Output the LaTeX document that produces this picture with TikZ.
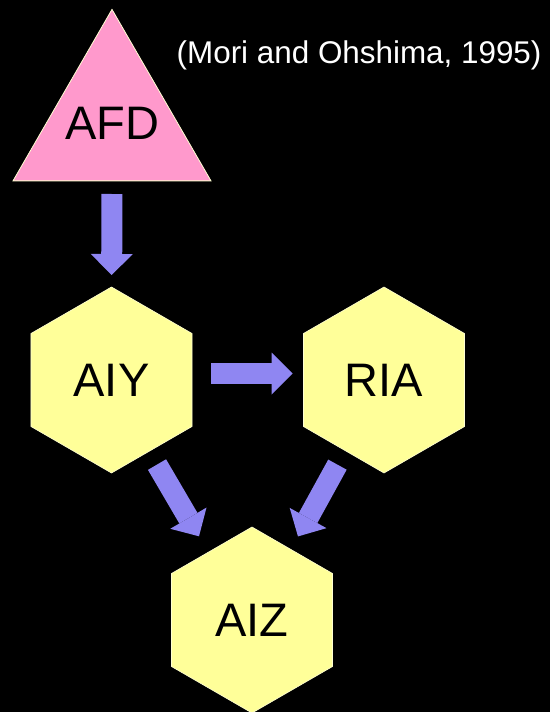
\documentclass[tikz,border=0pt]{standalone}
\usepackage{fontspec}
\setmainfont{Liberation Sans}
\usepackage{tikz}
\usetikzlibrary{shapes.geometric, arrows.meta}

\definecolor{cellyellow}{RGB}{255,255,153}
\definecolor{afdpink}{RGB}{255,153,204}
\definecolor{flowblue}{RGB}{143,134,242}
\definecolor{edgecream}{RGB}{255,255,210}

\begin{document}
\begin{tikzpicture}[x=1pt,y=-1pt,
  neuron/.style={regular polygon, regular polygon sides=6, shape border rotate=30,
    minimum size=186pt, inner sep=0pt, outer sep=0pt,
    fill=cellyellow, draw=edgecream, line width=0.6pt, font=\fontsize{47}{56}\selectfont},
  sensory/.style={regular polygon, regular polygon sides=3,
    minimum size=228.6pt, inner sep=0pt, outer sep=0pt,
    fill=afdpink, draw=edgecream, line width=0.8pt, font=\fontsize{47}{56}\selectfont},
  flow/.style={draw=flowblue, line width=21pt,
    -{Triangle[length=21pt 0 0, width=42pt 0 0, line width=0pt 0 0, fill=flowblue]}}]

  \useasboundingbox (0,0) rectangle (550,712);
  \fill[black] (0,0) rectangle (550,712);

  \node[sensory] (afd) at (112,123.7) {\makebox[0pt]{AFD}};
  \node[neuron] (aiy) at (111.5,380) {AIY};
  \node[neuron] (ria) at (384,380) {RIA};
  \node[neuron] (aiz) at (252,620) {AIZ};

  \node[anchor=base west, inner sep=0pt, text=white, font=\fontsize{31.4}{38}\selectfont]
    (cite) at (176.5,63) {(Mori and Ohshima, 1995)};

  \draw[flow, shorten <=70.3pt, shorten >=105pt] (afd.center) -- (aiy.center);
  \draw[flow, shorten <=99.5pt, shorten >=91.3pt] ([yshift=6.5pt]aiy.center) -- ([yshift=6.5pt]ria.center);
  \draw[flow, shorten <=98pt, shorten >=97pt] ([xshift=-4pt]aiy.center) -- ([xshift=-4pt]aiz.center);
  \draw[flow, shorten <=96.6pt, shorten >=95.4pt] (ria.center) -- (aiz.center);

\end{tikzpicture}
\end{document}
